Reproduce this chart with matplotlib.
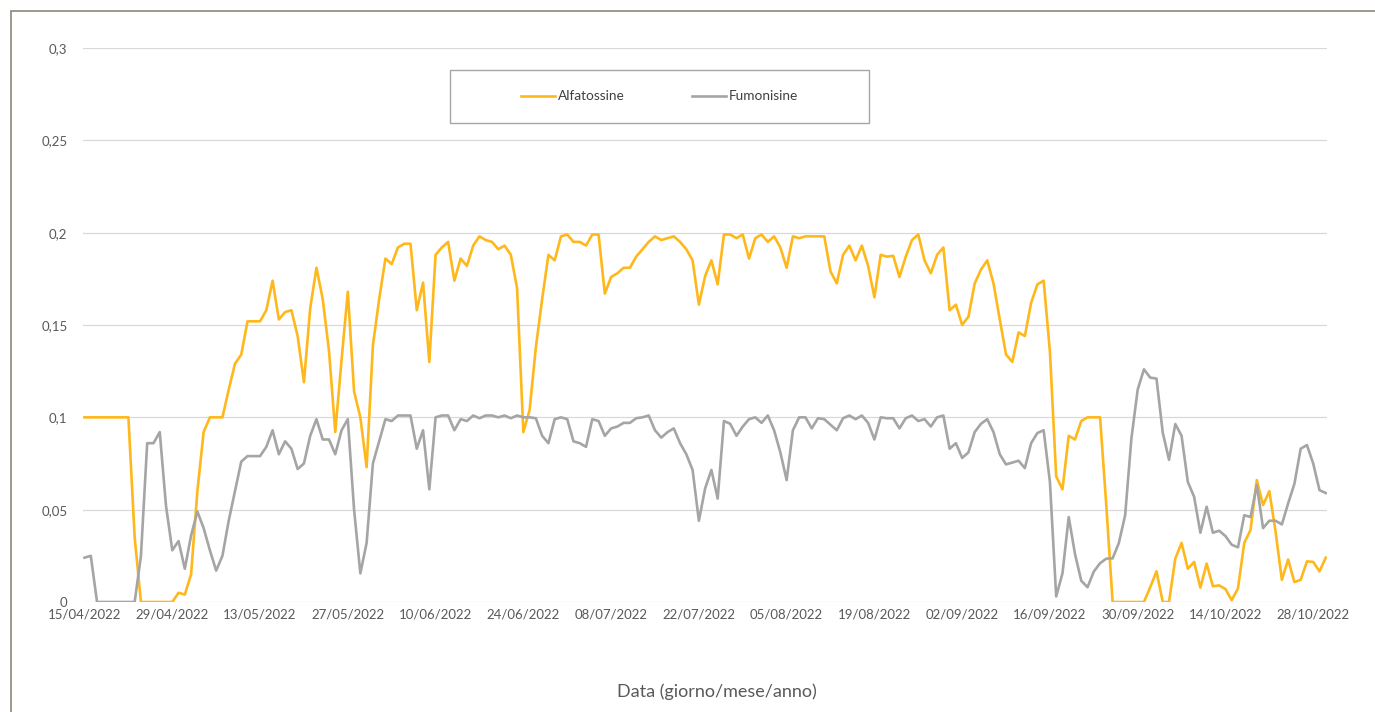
import numpy as np
import pandas as pd
import matplotlib
matplotlib.use("Agg")
import matplotlib.pyplot as plt
import matplotlib.dates as mdates
from matplotlib.patches import Rectangle

plt.rcParams["font.family"] = ["Lato", "DejaVu Sans"]

# daily values, 15/04/2022 -> 30/10/2022
start_date = "2022-04-15"

alfatossine = [
    0.1, 0.1, 0.1, 0.1, 0.1, 0.1, 0.1, 0.1, 0.035, 0.0,
    0.0, 0.0, 0.0, 0.0, 0.0, 0.005, 0.004, 0.015, 0.06, 0.092,
    0.1, 0.1, 0.1, 0.115, 0.129, 0.134, 0.152, 0.152, 0.152, 0.158,
    0.174, 0.153, 0.157, 0.158, 0.144, 0.119, 0.159, 0.181, 0.164, 0.136,
    0.092, 0.131, 0.168, 0.114, 0.100, 0.073, 0.139, 0.164, 0.186, 0.183,
    0.192, 0.194, 0.194, 0.158, 0.173, 0.130, 0.188, 0.192, 0.195, 0.174,
    0.186, 0.182, 0.193, 0.198, 0.196, 0.195, 0.191, 0.193, 0.188, 0.170,
    0.092, 0.104, 0.138, 0.164, 0.188, 0.185, 0.198, 0.199, 0.195, 0.195,
    0.193, 0.199, 0.199, 0.167, 0.176, 0.178, 0.181, 0.181, 0.187, 0.191,
    0.195, 0.198, 0.196, 0.197, 0.198, 0.195, 0.191, 0.185, 0.161, 0.1765,
    0.185, 0.172, 0.199, 0.199, 0.197, 0.199, 0.186, 0.197, 0.199, 0.195,
    0.198, 0.192, 0.181, 0.198, 0.197, 0.198, 0.198, 0.198, 0.198, 0.179,
    0.1725, 0.188, 0.193, 0.185, 0.193, 0.182, 0.165, 0.188, 0.187, 0.1875,
    0.176, 0.187, 0.196, 0.199, 0.185, 0.178, 0.188, 0.192, 0.158, 0.161,
    0.150, 0.1545, 0.1725, 0.180, 0.185, 0.1725, 0.153, 0.134, 0.130, 0.146,
    0.144, 0.162, 0.172, 0.174, 0.1355, 0.068, 0.061, 0.090, 0.088, 0.098,
    0.100, 0.100, 0.100, 0.052, 0.0, 0.0, 0.0, 0.0, 0.0, 0.0,
    0.008, 0.0166, 0.0, 0.0, 0.0235, 0.032, 0.018, 0.0217, 0.0078, 0.0208,
    0.0085, 0.009, 0.007, 0.001, 0.0074, 0.032, 0.039, 0.066, 0.0525, 0.060,
    0.038, 0.012, 0.023, 0.0108, 0.012, 0.022, 0.0217, 0.0166, 0.024,
]

fumonisine = [
    0.024, 0.025, 0.0, 0.0, 0.0, 0.0, 0.0, 0.0, 0.0, 0.025,
    0.086, 0.086, 0.092, 0.052, 0.028, 0.033, 0.018, 0.036, 0.049, 0.040,
    0.028, 0.017, 0.025, 0.044, 0.060, 0.076, 0.079, 0.079, 0.079, 0.084,
    0.093, 0.080, 0.087, 0.083, 0.072, 0.075, 0.090, 0.099, 0.088, 0.088,
    0.080, 0.093, 0.099, 0.050, 0.0155, 0.032, 0.075, 0.087, 0.099, 0.098,
    0.101, 0.101, 0.101, 0.083, 0.093, 0.061, 0.100, 0.101, 0.101, 0.093,
    0.099, 0.098, 0.101, 0.0995, 0.101, 0.101, 0.100, 0.101, 0.0995, 0.101,
    0.100, 0.100, 0.0995, 0.090, 0.086, 0.099, 0.100, 0.099, 0.087, 0.086,
    0.084, 0.099, 0.098, 0.090, 0.094, 0.095, 0.097, 0.097, 0.0995, 0.100,
    0.101, 0.093, 0.089, 0.092, 0.094, 0.086, 0.080, 0.0715, 0.044, 0.0615,
    0.0715, 0.056, 0.098, 0.0965, 0.090, 0.095, 0.099, 0.100, 0.097, 0.101,
    0.093, 0.081, 0.066, 0.093, 0.100, 0.100, 0.094, 0.0995, 0.099, 0.096,
    0.093, 0.0995, 0.101, 0.099, 0.101, 0.097, 0.088, 0.100, 0.0995, 0.0995,
    0.094, 0.0995, 0.101, 0.098, 0.099, 0.095, 0.100, 0.101, 0.083, 0.086,
    0.078, 0.081, 0.092, 0.0965, 0.099, 0.092, 0.080, 0.0745, 0.0755, 0.0765,
    0.0725, 0.086, 0.0915, 0.093, 0.065, 0.003, 0.0155, 0.046, 0.026, 0.0115,
    0.008, 0.0165, 0.021, 0.0235, 0.0236, 0.032, 0.047, 0.0886, 0.115, 0.126,
    0.1215, 0.121, 0.0917, 0.077, 0.0964, 0.090, 0.065, 0.057, 0.0375, 0.0516,
    0.0375, 0.0386, 0.0357, 0.031, 0.0296, 0.047, 0.046, 0.0634, 0.040, 0.044,
    0.044, 0.042, 0.0534, 0.064, 0.083, 0.085, 0.075, 0.0606, 0.059,
]

y_ticks = [0, 0.05, 0.1, 0.15, 0.2, 0.25, 0.3]
y_labels = ["0", "0,05", "0,1", "0,15", "0,2", "0,25", "0,3"]

dates = pd.date_range(start_date, periods=len(alfatossine), freq="D")

W, H = 1375, 712
fig = plt.figure(figsize=(W / 100, H / 100), dpi=100)

# outer chart border (cut by the image edge on right/bottom)
fig.patches.append(Rectangle((11 / W, -0.05), 1.2, 1 - 11 / H + 0.05,
                             transform=fig.transFigure, fill=False,
                             edgecolor="#8f867b", linewidth=1.2))

left, right, top, bottom = 82.7, 1327, 48, 602
ax = fig.add_axes([left / W, 1 - bottom / H, (right - left) / W, (bottom - top) / H])

ax.plot(dates, alfatossine, color="#ffb81c", linewidth=1.9, label="Alfatossine")
ax.plot(dates, fumonisine, color="#a5a5a5", linewidth=1.9, label="Fumonisine")

day = pd.Timedelta(days=1)
ax.set_xlim(dates[0] - 0.29 * day, dates[-1] + 0.2 * day)
ax.set_ylim(0, 0.3)

ax.set_yticks(y_ticks)
ax.set_yticklabels(y_labels)
ax.set_xticks(dates[::14])
ax.xaxis.set_major_formatter(mdates.DateFormatter("%d/%m/%Y"))

ax.grid(axis="y", color="#d9d9d9", linewidth=0.9)
ax.set_axisbelow(True)
for s in ax.spines.values():
    s.set_visible(False)
ax.tick_params(length=0, colors="#595959", labelsize=9.5)
ax.tick_params(axis="y", pad=11)
ax.tick_params(axis="x", pad=5)

fig.text(717 / W, 1 - 692 / H, "Data (giorno/mese/anno)", ha="center", va="center",
         fontsize=13, color="#595959")

# legend box
fig.patches.append(Rectangle((450 / W, 1 - 123 / H), 419 / W, 53 / H,
                             transform=fig.transFigure, fill=False,
                             edgecolor="#a6a6a6", linewidth=1.0))
leg = ax.legend(loc="center", bbox_to_anchor=(659.5 / W, 1 - 96.5 / H),
                bbox_transform=fig.transFigure, ncol=2, frameon=False,
                fontsize=9.8, handlelength=2.5, handletextpad=0.15,
                columnspacing=5.0)
for t in leg.get_texts():
    t.set_color("#404040")

fig.savefig("out.png", dpi=100)
